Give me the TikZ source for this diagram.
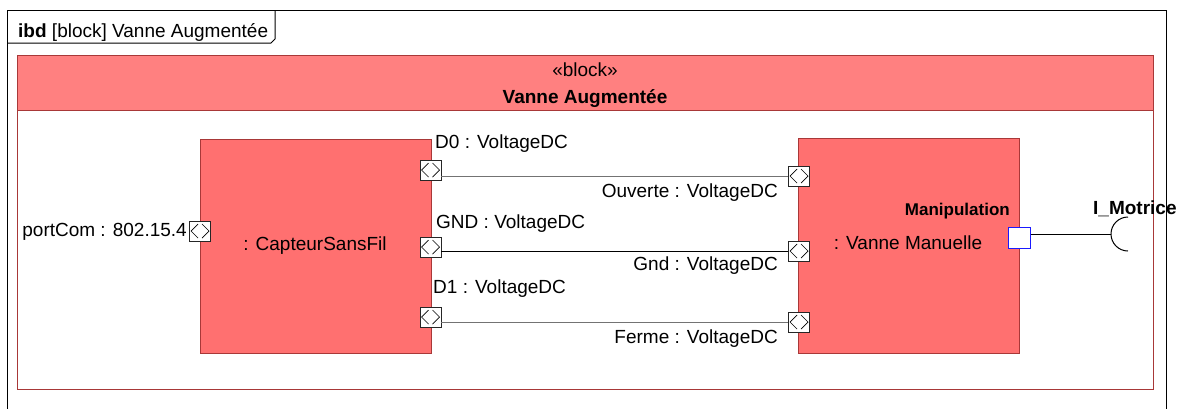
\documentclass[tikz,border=0pt]{standalone}
\usepackage{fontspec}
\setmainfont{Liberation Sans}
\definecolor{hdrred}{HTML}{FF8080}
\definecolor{partred}{HTML}{FF7070}
\definecolor{bordred}{HTML}{A83838}
\definecolor{portblue}{HTML}{1A1AFF}
\begin{document}
\begin{tikzpicture}[x=1pt,y=-1pt,
  every node/.style={font=\fontsize{19}{21}\selectfont, inner sep=0pt},
  lbl/.style={anchor=base west},
  rlbl/.style={anchor=base east},
  clbl/.style={anchor=base},
  partbox/.style={draw=bordred, fill=partred, line width=1pt},
  flowport/.style={draw=black!85, fill=white, line width=0.9pt, minimum width=21pt, minimum height=20pt,
    path picture={
      \draw[black, line width=0.7pt] ([xshift=-2pt,yshift=7pt]path picture bounding box.center) -- ++(-7pt,-7pt) -- ++(7pt,-7pt);
      \draw[black, line width=0.7pt] ([xshift=2pt,yshift=7pt]path picture bounding box.center) -- ++(7pt,-7pt) -- ++(-7pt,-7pt);
    }},
  stdport/.style={draw=portblue, fill=white, line width=1pt, minimum width=22pt, minimum height=21pt},
  conn/.style={line width=0.9pt},
]
\clip (0,0) rectangle (1183,408);
\fill[white] (0,0) rectangle (1183,408);

% frame
\draw[line width=1pt, black] (7,430) -- (7,10) -- (1166,10) -- (1166,430);
\draw[line width=1pt, black] (7,43) -- (271,43) -- (275,39) -- (275,10);
\node[lbl] (title) at (18,37) {\textbf{ibd} [block] Vanne Augmentée};

% outer block
\node[draw=bordred, fill=white, line width=1pt, minimum width=1136pt, minimum height=334pt] (blk) at (585,222) {};
\node[draw=bordred, fill=hdrred, line width=1pt, minimum width=1136pt, minimum height=55pt] (hdr) at (585,82.5) {};
\node[clbl] (stereo) at (585,76) {«block»};
\node[clbl] (bname) at (585,103) {\textbf{Vanne Augmentée}};

% parts
\node[partbox, minimum width=231pt, minimum height=214pt] (cap) at (315.5,246) {};
\node[clbl] (capname) at (315,250) {: CapteurSansFil};
\node[partbox, minimum width=221pt, minimum height=215pt] (van) at (908.5,245.5) {};
\node[clbl] (vanname) at (908,249) {: Vanne Manuelle};

% ports
\node[flowport] (pcom) at (200,231) {};
\node[flowport] (lD0) at (430.5,170) {};
\node[flowport] (lGND) at (430.5,247) {};
\node[flowport] (lD1) at (430.5,317) {};
\node[flowport] (rD0) at (799,176) {};
\node[flowport] (rGND) at (799,251) {};
\node[flowport] (rD1) at (799,322) {};
\node[stdport] (manip) at (1019,237.5) {};

% connectors
\draw[conn, black!55] (lD0.east |- rD0) -- (rD0.west);
\draw[conn, black] (lGND.east |- rGND) -- (rGND.west);
\draw[conn, black!55] (lD1.east |- rD1) -- (rD1.west);

\coordinate (sock) at (1111,234);
\draw[conn, black] (manip.east |- sock) -- (sock);
\draw[line width=1pt, black] (1128,251) arc[start angle=270, end angle=90, radius=17pt];

% labels
\node[rlbl] (lcom) at (187,236) {portCom : 802.15.4};
\node[lbl] (tD0) at (435,148) {D0 : VoltageDC};
\node[lbl] (tGND) at (436,228) {GND : VoltageDC};
\node[lbl] (tD1) at (433,293) {D1 : VoltageDC};
\node[rlbl] (tOuv) at (778,197) {Ouverte : VoltageDC};
\node[rlbl] (tGnd) at (778,270) {Gnd : VoltageDC};
\node[rlbl] (tFer) at (778,343) {Ferme : VoltageDC};
\node[rlbl, font=\fontsize{17}{19}\selectfont\bfseries] (tman) at (1010,215) {Manipulation};
\node[lbl] (tmot) at (1093,214) {\textbf{I\_Motrice}};
\end{tikzpicture}
\end{document}
